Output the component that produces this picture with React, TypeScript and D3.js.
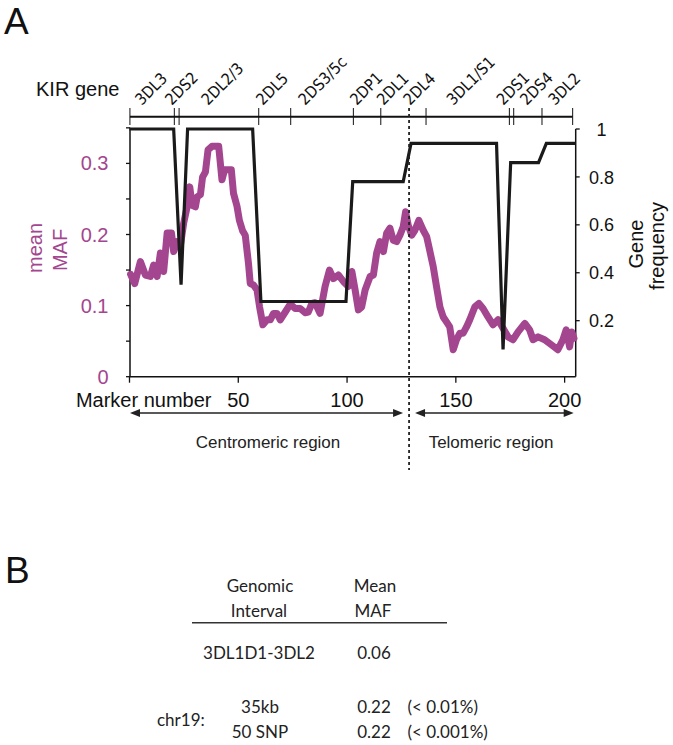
import React from 'react';
import * as d3 from 'd3';

// ---- data ----
const markerTicks = [50, 100, 150, 200];
const mafTicks = [0, 0.05, 0.1, 0.15, 0.2, 0.25, 0.3, 0.35];
const mafLabelTicks = [0, 0.1, 0.2, 0.3];
const freqTicks = [0.2, 0.4, 0.6, 0.8, 1];

const geneNames = ['3DL3', '2DS2', '2DL2/3', '2DL5', '2DS3/5c', '2DP1', '2DL1', '2DL4', '3DL1/S1', '2DS1', '2DS4', '3DL2'];
const geneLabelMarker = [5.6, 19.4, 36.1, 61.3, 80.7, 104.4, 116.7, 128.9, 148.8, 171.8, 182.6, 195.6];
const geneBoundaries = [0.2, 20.6, 22.8, 59.4, 74.1, 102.9, 115.5, 136.3, 174.6, 176.6, 189.6, 203.7];
const centromereBoundary = 128.5;

const freqMarker = [0, 20.3, 23.7, 26.7, 56.6, 60.4, 99.5, 102.6, 125.8, 129.4, 168.7, 171.7, 175.2, 188, 191.6, 205];
const freqValue = [1, 1, 0.35, 1, 1, 0.28, 0.28, 0.78, 0.78, 0.94, 0.94, 0.08, 0.86, 0.86, 0.94, 0.94];

const mafMarker = [
  0.5, 2.4, 5.0, 7.3, 9.6, 11.1, 12.7, 14.2, 15.7, 17.3,
  19.3, 20.3, 21.9, 23.4, 24.9, 26.5, 27.7, 28.8, 30.3, 31.1,
  32.6, 33.6, 34.9, 36.1, 37.9, 41.0, 42.5, 43.7, 46.8, 47.8,
  49.4, 50.5, 52.0, 53.2, 54.7, 55.5, 57.0, 58.6, 59.8, 61.3,
  63.2, 64.7, 66.2, 67.8, 69.3, 71.6, 73.9, 76.1, 78.4, 80.7,
  82.2, 83.8, 85.3, 87.6, 89.9, 91.9, 93.7, 96.0, 98.3, 100.6,
  102.2, 103.7, 105.2, 106.7, 108.3, 110.6, 112.1, 113.6, 115.1, 116.7,
  118.2, 119.7, 121.2, 122.8, 124.3, 125.8, 126.9, 128.1, 129.7, 131.2,
  133.0, 135.0, 136.6, 137.6, 139.6, 141.1, 142.7, 144.2, 145.7, 147.2,
  148.8, 150.3, 151.8, 153.3, 154.9, 156.4, 158.7, 160.6, 162.5, 164.8,
  167.1, 169.4, 171.7, 174.0, 176.3, 178.6, 181.7, 183.9, 185.5, 187.8,
  190.8, 193.9, 196.9, 199.2, 200.7, 202.3, 203.3, 204.3,
];
const mafValue = [
  0.144, 0.131, 0.162, 0.143, 0.141, 0.157, 0.141, 0.174, 0.148, 0.202,
  0.202, 0.176, 0.19, 0.185, 0.216, 0.239, 0.267, 0.241, 0.239, 0.253,
  0.256, 0.281, 0.288, 0.319, 0.324, 0.324, 0.277, 0.291, 0.291, 0.258,
  0.24, 0.22, 0.205, 0.199, 0.159, 0.131, 0.129, 0.122, 0.098, 0.073,
  0.08, 0.08, 0.089, 0.089, 0.08, 0.091, 0.102, 0.096, 0.096, 0.09,
  0.091, 0.103, 0.104, 0.089, 0.127, 0.15, 0.138, 0.143, 0.134, 0.127,
  0.148, 0.122, 0.094, 0.098, 0.122, 0.141, 0.143, 0.174, 0.19, 0.176,
  0.202, 0.209, 0.192, 0.19, 0.199, 0.211, 0.232, 0.213, 0.199, 0.206,
  0.22, 0.206, 0.197, 0.183, 0.155, 0.127, 0.098, 0.084, 0.077, 0.07,
  0.038, 0.052, 0.061, 0.061, 0.07, 0.08, 0.098, 0.103, 0.096, 0.084,
  0.073, 0.08, 0.068, 0.056, 0.052, 0.063, 0.075, 0.066, 0.052, 0.056,
  0.052, 0.045, 0.038, 0.052, 0.066, 0.042, 0.063, 0.054,
];

const tableHeaderInterval = ['Genomic', 'Interval'];
const tableHeaderMAF = ['Mean', 'MAF'];
const kirInterval = '3DL1D1-3DL2';
const kirMAF = '0.06';
const chrLabel = 'chr19:';
const chrIntervals = ['35kb', '50 SNP'];
const chrMAF = ['0.22', '0.22'];
const chrPercentile = ['(< 0.01%)', '(< 0.001%)'];

// ---- layout ----
const W = 673;
const H = 745;
const MAGENTA = '#a4468f';
const SANS = "'Liberation Sans', Arial, Helvetica, sans-serif";
const NARROW = "'Liberation Sans Narrow', 'Arial Narrow', 'DejaVu Sans Condensed', sans-serif";
const TABLEFONT = "Lato, 'Open Sans', sans-serif";

const x = d3.scaleLinear().domain([0, 205]).range([129.5, 575.5]);
const yMaf = d3.scaleLinear().domain([0, 0.35]).range([376.7, 127.85]);
const yFreq = d3.scaleLinear().domain([0, 1]).range([368.6, 129]);

const plotLeft = 130;
const plotRight = 575.7;
const plotBottom = 376.7;
const plotTop = 129;
const geneLineY = 116.7;
const arrowY = 413;

export default function App() {
  const mafLine = d3
    .line<number>()
    .x((d, i) => x(mafMarker[i]))
    .y((d) => yMaf(d))
    .curve(d3.curveLinear);
  const freqLine = d3
    .line<number>()
    .x((d, i) => x(freqMarker[i]))
    .y((d) => yFreq(d));

  const xb = x(centromereBoundary);

  const arrow = (x1: number, x2: number) => {
    const hl = 10;
    const hw = 4;
    return (
      <g>
        <line x1={x1 + hl - 1} x2={x2 - hl + 1} y1={arrowY} y2={arrowY} stroke="#222" strokeWidth={1.4} />
        <polygon points={`${x1},${arrowY} ${x1 + hl},${arrowY - hw} ${x1 + hl},${arrowY + hw}`} fill="#222" />
        <polygon points={`${x2},${arrowY} ${x2 - hl},${arrowY - hw} ${x2 - hl},${arrowY + hw}`} fill="#222" />
      </g>
    );
  };

  return (
    <svg width={W} height={H} style={{ position: 'absolute', left: 0, top: 0, background: '#fff' }} xmlns="http://www.w3.org/2000/svg">
      <rect width={W} height={H} fill="#fff" />
      {/* panel letters */}
      <text x={4} y={34} fontFamily={SANS} fontSize={37} fill="#111">A</text>
      <text x={5} y={583} fontFamily={SANS} fontSize={37} fill="#111">B</text>

      {/* KIR gene axis */}
      <text x={36} y={96} fontFamily={SANS} fontSize={20} fill="#111">KIR gene</text>
      <line x1={x(geneBoundaries[0])} x2={x(geneBoundaries[geneBoundaries.length - 1])} y1={geneLineY} y2={geneLineY} stroke="#111" strokeWidth={2} />
      {geneBoundaries.map((b, i) => (
        <line key={'gb' + i} x1={x(b)} x2={x(b)} y1={108} y2={125} stroke="#111" strokeWidth={1} />
      ))}
      {geneNames.map((g, i) => {
        const gx = x(geneLabelMarker[i]);
        const gy = 106;
        return (
          <text key={'gn' + i} x={gx} y={gy} transform={`rotate(-45 ${gx} ${gy})`} fontFamily={NARROW} fontSize={16} fill="#111">
            {g}
          </text>
        );
      })}

      {/* left axis */}
      <line x1={plotLeft} x2={plotLeft} y1={yMaf(0.35)} y2={plotBottom} stroke="#111" strokeWidth={1.5} />
      {mafTicks.map((t) => (
        <line key={'lt' + t} x1={plotLeft - 4} x2={plotLeft} y1={yMaf(t)} y2={yMaf(t)} stroke="#111" strokeWidth={1.3} />
      ))}
      {mafLabelTicks.map((t) => (
        <text key={'ll' + t} x={108.5} y={yMaf(t) + 7} textAnchor="end" fontFamily={SANS} fontSize={20} fill={MAGENTA}>
          {t === 0 ? '0' : String(t)}
        </text>
      ))}
      <g fontFamily={SANS} fontSize={20} fill={MAGENTA} textAnchor="middle">
        <text transform={`translate(41.5 248) rotate(-90)`}>mean</text>
        <text transform={`translate(66.5 250) rotate(-90)`}>MAF</text>
      </g>

      {/* right axis */}
      <line x1={plotRight} x2={plotRight} y1={plotTop} y2={plotBottom} stroke="#111" strokeWidth={1.5} />
      {freqTicks.map((t) => (
        <line key={'rt' + t} x1={plotRight} x2={plotRight + 4} y1={yFreq(t)} y2={yFreq(t)} stroke="#111" strokeWidth={1.3} />
      ))}
      {freqTicks.map((t) => (
        <text key={'rl' + t} x={601.5} y={yFreq(t) + 6.6} textAnchor="middle" fontFamily={SANS} fontSize={18} fill="#111">
          {String(t)}
        </text>
      ))}
      <g fontFamily={SANS} fontSize={20} fill="#111" textAnchor="middle">
        <text transform={`translate(643 244) rotate(-90)`}>Gene</text>
        <text transform={`translate(664 246) rotate(-90)`}>frequency</text>
      </g>

      {/* bottom axis */}
      <line x1={plotLeft} x2={plotRight} y1={plotBottom} y2={plotBottom} stroke="#111" strokeWidth={1.5} />
      {[0, ...markerTicks].map((t) => (
        <line key={'bt' + t} x1={x(t)} x2={x(t)} y1={plotBottom} y2={plotBottom + 6} stroke="#111" strokeWidth={1.3} />
      ))}
      {markerTicks.map((t) => (
        <text key={'bl' + t} x={x(t)} y={406.7} textAnchor="middle" fontFamily={SANS} fontSize={20} fill="#111">
          {t}
        </text>
      ))}
      <text x={211.5} y={406.7} textAnchor="end" fontFamily={SANS} fontSize={20} fill="#111">Marker number</text>

      {/* data lines */}
      <path d={mafLine(mafValue) || ''} fill="none" stroke={MAGENTA} strokeWidth={7} strokeLinejoin="round" strokeLinecap="round" />
      <path d={freqLine(freqValue) || ''} fill="none" stroke="#1a1a1a" strokeWidth={3.2} strokeLinejoin="miter" strokeMiterlimit={10} />

      {/* centromere/telomere boundary */}
      <line x1={xb} x2={xb} y1={108} y2={470} stroke="#222" strokeWidth={1.8} strokeDasharray="3 3" />

      {/* region arrows */}
      {arrow(plotLeft, xb - 6)}
      {arrow(xb + 6, plotRight - 2)}
      <text x={268} y={448} textAnchor="middle" fontFamily={SANS} fontSize={17} fill="#222">Centromeric region</text>
      <text x={491} y={448} textAnchor="middle" fontFamily={SANS} fontSize={17} fill="#222">Telomeric region</text>

      {/* panel B table */}
      <g fontFamily={TABLEFONT} fontSize={17} fill="#222" textAnchor="middle">
        <text x={260} y={592}>{tableHeaderInterval[0]}</text>
        <text x={259} y={617}>{tableHeaderInterval[1]}</text>
        <text x={375} y={592}>{tableHeaderMAF[0]}</text>
        <text x={373} y={617}>{tableHeaderMAF[1]}</text>
        <text x={259} y={659}>{kirInterval}</text>
        <text x={374} y={659}>{kirMAF}</text>
        {chrIntervals.map((c, i) => (
          <text key={'ci' + i} x={260} y={713 + i * 25}>{c}</text>
        ))}
        {chrMAF.map((c, i) => (
          <text key={'cm' + i} x={374} y={713 + i * 25}>{c}</text>
        ))}
      </g>
      <line x1={192} x2={447} y1={622.7} y2={622.7} stroke="#333" strokeWidth={1.5} />
      <g fontFamily={TABLEFONT} fontSize={17} fill="#222">
        <text x={157} y={726}>{chrLabel}</text>
        {chrPercentile.map((p, i) => (
          <text key={'cp' + i} x={407.5} y={713 + i * 25}>{p}</text>
        ))}
      </g>
    </svg>
  );
}
